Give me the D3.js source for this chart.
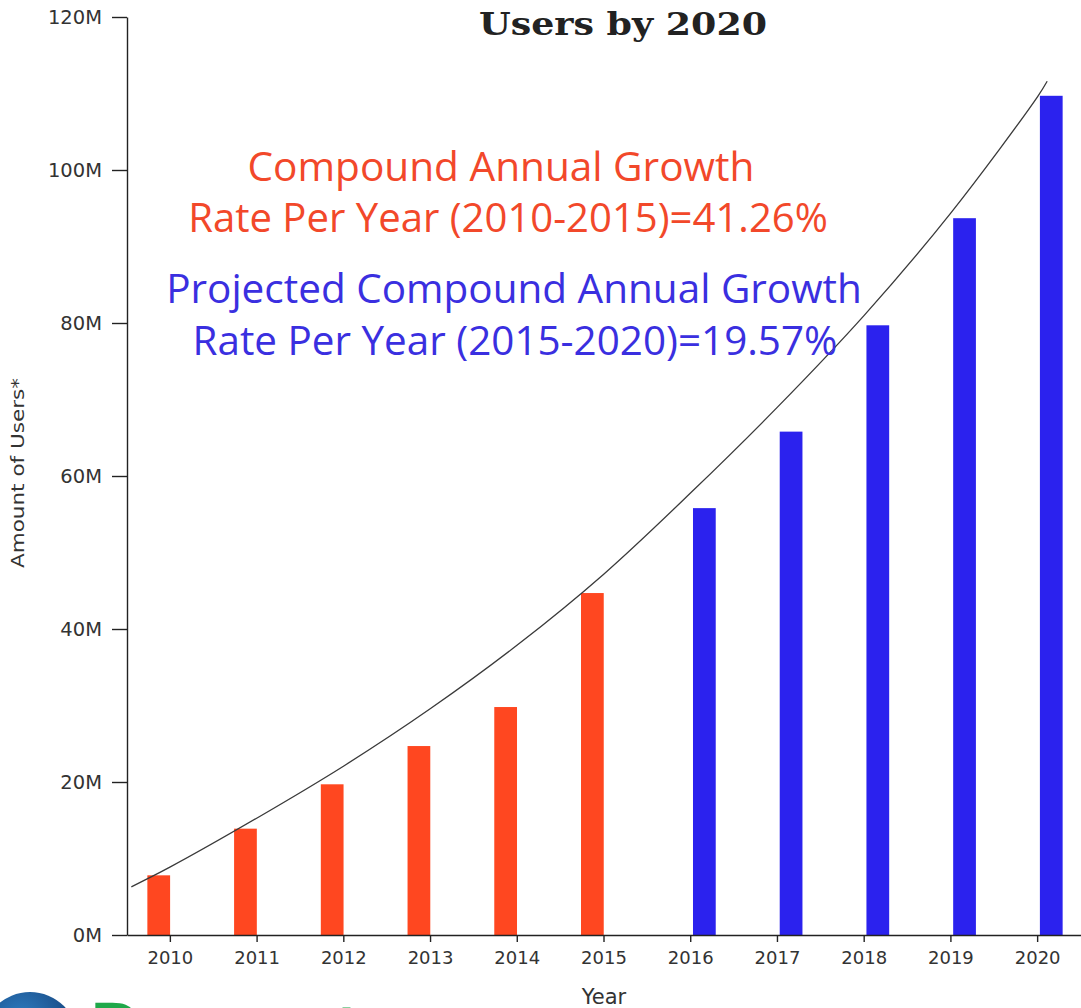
<!DOCTYPE html>
<html>
<head>
<meta charset="utf-8">
<script src="https://cdn.jsdelivr.net/npm/d3@7"></script>
<style>
  html, body { margin: 0; padding: 0; background: #ffffff; }
  svg { display: block; }
</style>
</head>
<body>
<script>
// ---------- DATA ----------
const years = ["2010","2011","2012","2013","2014","2015","2016","2017","2018","2019","2020"];
const actualUsers    = [7.8, 13.9, 19.7, 24.7, 29.8, 44.7, null, null, null, null, null]; // millions
const projectedUsers = [null, null, null, null, null, null, 55.8, 65.8, 79.7, 93.7, 109.7]; // millions
// trend curve (year, millions)
const trendYears  = [2009.55, 2010, 2011, 2012, 2013, 2014, 2015, 2016, 2017, 2018, 2019, 2020, 2020.11];
const trendValues = [6.3, 8.9, 15.3, 22.1, 29.6, 37.9, 47.2, 57.8, 69.0, 81.0, 94.4, 109.6, 111.6];
const yTicks = [0, 20, 40, 60, 80, 100, 120];
const titleText = "Users by 2020";
const redNote  = ["Compound Annual Growth", "Rate Per Year (2010-2015)=41.26%"];
const blueNote = ["Projected Compound Annual Growth", "Rate Per Year (2015-2020)=19.57%"];

// ---------- LAYOUT ----------
const W = 1081, H = 1008;
const mLeft = 127, mRight = 1081, mTop = 17, mBottom = 935;
const RED = "#FF4720", BLUE = "#2B22EE";
const RED_TXT = "#F2482A", BLUE_TXT = "#3A2FE0";
const FONT = "'Open Sans', 'Noto Sans', sans-serif";
const AXFONT = "'DejaVu Sans', 'Open Sans', sans-serif";

const svg = d3.select("body").append("svg").attr("width", W).attr("height", H);

const x = d3.scaleBand().domain(years).range([mLeft, mRight]).padding(0);
const xSub = d3.scaleBand().domain(["actual","projected"]).range([-23, 25]).paddingInner(0.1);
const y = d3.scaleLinear().domain([0, 120]).range([mBottom, mTop]);
const xYear = d3.scaleLinear().domain([2010, 2020])
  .range([x("2010") + x.bandwidth()/2, x("2020") + x.bandwidth()/2]);

// bars
const g = svg.append("g");
years.forEach((yr, i) => {
  const cx = x(yr) + x.bandwidth()/2;
  if (actualUsers[i] != null) {
    g.append("rect").attr("x", cx + xSub("actual")).attr("width", xSub.bandwidth())
      .attr("y", y(actualUsers[i])).attr("height", y(0) - y(actualUsers[i])).attr("fill", RED);
  }
  if (projectedUsers[i] != null) {
    g.append("rect").attr("x", cx + xSub("projected")).attr("width", xSub.bandwidth())
      .attr("y", y(projectedUsers[i])).attr("height", y(0) - y(projectedUsers[i])).attr("fill", BLUE);
  }
});

// trend curve
const line = d3.line().x((d, i) => xYear(trendYears[i])).y(d => y(d)).curve(d3.curveCatmullRom.alpha(0.5));
svg.append("path").attr("d", line(trendValues)).attr("fill", "none")
  .attr("stroke", "#3a3a3a").attr("stroke-width", 1.3);

// axes
const yAxis = d3.axisLeft(y).tickValues(yTicks).tickFormat(d => d + "M").tickSize(15).tickPadding(10).tickSizeOuter(0);
const ya = svg.append("g").attr("transform", `translate(${mLeft},0)`).call(yAxis);
const xAxis = d3.axisBottom(x).tickSize(7).tickPadding(9).tickSizeOuter(0);
const xa = svg.append("g").attr("transform", `translate(0,${mBottom})`).call(xAxis);
[ya, xa].forEach(a => {
  a.selectAll("path, line").attr("stroke", "#222").attr("stroke-width", 1.4);
  a.selectAll("text").attr("font-family", AXFONT).attr("font-size", 18).attr("fill", "#333");
});
ya.selectAll("text").attr("font-size", 19.5);

// axis titles
svg.append("text").attr("x", (mLeft + mRight)/2).attr("y", 1004).attr("text-anchor", "middle")
  .attr("font-family", AXFONT).attr("font-size", 21).attr("fill", "#333").text("Year");
svg.append("text").attr("transform", `translate(24,${(mTop + mBottom)/2 - 3}) rotate(-90)`)
  .attr("text-anchor", "middle").attr("font-family", AXFONT).attr("font-size", 17).attr("fill", "#333")
  .attr("textLength", 190).attr("lengthAdjust", "spacingAndGlyphs")
  .text("Amount of Users*");

// helper: fit text to a target width
function fitText(sel, targetW) {
  const w = sel.node().getComputedTextLength();
  const fs = parseFloat(sel.attr("font-size"));
  sel.attr("font-size", fs * targetW / w);
}

// title
svg.append("text").attr("x", 623).attr("y", 35).attr("text-anchor", "middle")
  .attr("font-family", "'DejaVu Serif', 'Liberation Serif', serif").attr("font-weight", "bold")
  .attr("font-size", 31).attr("fill", "#222").text(titleText)
  .attr("textLength", 288).attr("lengthAdjust", "spacingAndGlyphs");

// annotations
const notes = [
  {text: redNote[0],  y: 181, cx: 501, w: 507, c: RED_TXT},
  {text: redNote[1],  y: 232, cx: 508, w: 640, c: RED_TXT},
  {text: blueNote[0], y: 303, cx: 514, w: 696, c: BLUE_TXT},
  {text: blueNote[1], y: 355, cx: 515, w: 645, c: BLUE_TXT}
];
notes.forEach(n => {
  const s = svg.append("text").attr("x", n.cx).attr("y", n.y).attr("text-anchor", "middle")
    .attr("font-family", FONT).attr("font-size", 38).attr("fill", n.c).text(n.text);
  fitText(s, n.w);
});

// logo peeking at the bottom-left
const grad = svg.append("defs").append("radialGradient").attr("id", "lg").attr("cx", "40%").attr("cy", "30%");
grad.append("stop").attr("offset", "0%").attr("stop-color", "#2f7fc4");
grad.append("stop").attr("offset", "100%").attr("stop-color", "#1a4f8a");
svg.append("circle").attr("cx", 30).attr("cy", 1040).attr("r", 48).attr("fill", "url(#lg)");
svg.append("text").attr("x", 88).attr("y", 1062).attr("font-family", FONT).attr("font-weight", "bold")
  .attr("font-size", 82).attr("fill", "#1fa84a").text("Report");
</script>
</body>
</html>
